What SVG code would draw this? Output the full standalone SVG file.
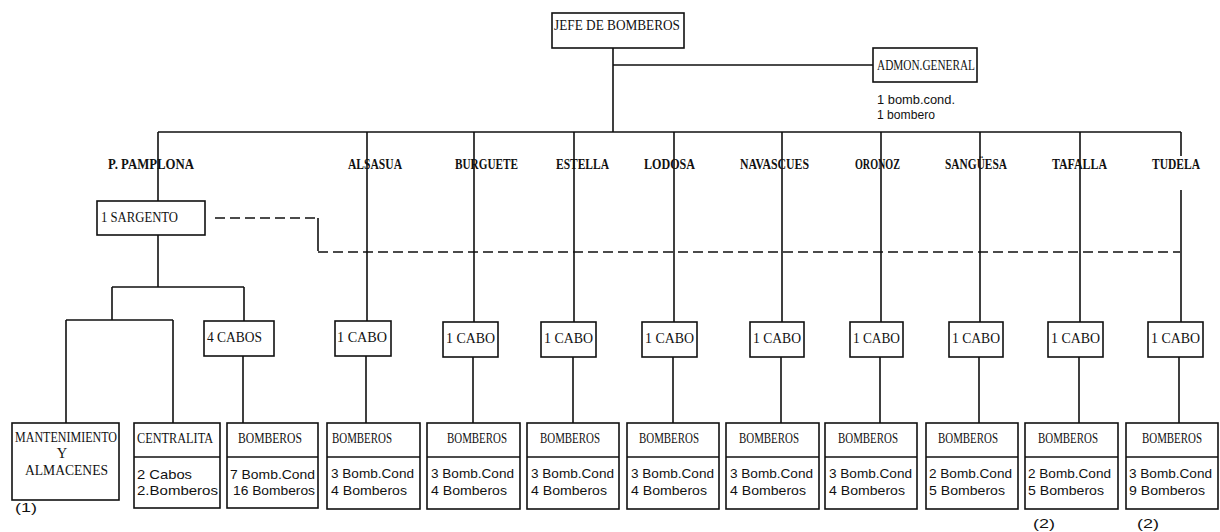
<svg xmlns="http://www.w3.org/2000/svg" width="1220" height="532" viewBox="0 0 1220 532">
<style>
.bx{fill:#fff;stroke:#111;stroke-width:1.6}
.ln{fill:none;stroke:#111;stroke-width:1.6}
.dl{fill:none;stroke:#111;stroke-width:1.6;stroke-dasharray:10 5}
.up{font-family:"Liberation Serif",serif;font-size:14.5px;fill:#111}
.tw{font-family:"Liberation Serif",serif;font-size:15.5px;font-weight:bold;fill:#111}
.lo{font-family:"Liberation Sans",sans-serif;font-size:13.5px;fill:#111}
.sm{font-family:"Liberation Sans",sans-serif;font-size:12px;fill:#111}
</style>
<rect width="1220" height="532" fill="#fff"/>
<g id="connectors">
<path class="ln" d="M613 48V132M613 65H873M158 132H1181"/>
<path class="ln" d="M158 132V201M367 132V321M474 132V322M574 132V322M674 132V322M782 132V322M881 132V322M980 132V322M1080 132V322M1181 132V156M1181 190V322"/>
<path class="ln" d="M366 356V423M473 357V423M573 357V423M673 357V423M781 357V423M880 357V423M979 357V423M1079 357V423M1179 357V423"/>
<path class="ln" d="M158 235V287M112 287H244M112 287V320M66 320H173M66 320V423M173 320V423M244 287V321M243 356V423"/>
<path class="dl" d="M215 218H318"/>
<path class="ln" d="M318 218V251"/>
<path class="dl" d="M318 252H1180"/>
</g>
<g id="jefe"><rect class="bx" x="552" y="13" width="132" height="35"/><text class="up" x="554" y="30" textLength="126" lengthAdjust="spacingAndGlyphs">JEFE DE BOMBEROS</text></g>
<g id="admon"><rect class="bx" x="873" y="48" width="104" height="34"/><text class="up" x="877" y="70" textLength="98" lengthAdjust="spacingAndGlyphs">ADMON.GENERAL</text>
<text class="sm" x="877" y="104" textLength="78" lengthAdjust="spacingAndGlyphs">1 bomb.cond.</text>
<text class="sm" x="877" y="119" textLength="58" lengthAdjust="spacingAndGlyphs">1 bombero</text></g>
<g id="towns">
<text class="tw" x="108" y="169" textLength="86" lengthAdjust="spacingAndGlyphs">P. PAMPLONA</text>
<text class="tw" x="348" y="169" textLength="54" lengthAdjust="spacingAndGlyphs">ALSASUA</text>
<text class="tw" x="455" y="169" textLength="63" lengthAdjust="spacingAndGlyphs">BURGUETE</text>
<text class="tw" x="556" y="169" textLength="53" lengthAdjust="spacingAndGlyphs">ESTELLA</text>
<text class="tw" x="644" y="169" textLength="51" lengthAdjust="spacingAndGlyphs">LODOSA</text>
<text class="tw" x="740" y="169" textLength="69" lengthAdjust="spacingAndGlyphs">NAVASCUES</text>
<text class="tw" x="855" y="169" textLength="45" lengthAdjust="spacingAndGlyphs">ORONOZ</text>
<text class="tw" x="945" y="169" textLength="62" lengthAdjust="spacingAndGlyphs">SANGÜESA</text>
<text class="tw" x="1052" y="169" textLength="55" lengthAdjust="spacingAndGlyphs">TAFALLA</text>
<text class="tw" x="1152" y="169" textLength="48" lengthAdjust="spacingAndGlyphs">TUDELA</text>
</g>
<g id="sargento"><rect class="bx" x="97" y="201" width="108" height="34"/><text class="up" x="101" y="222" textLength="77" lengthAdjust="spacingAndGlyphs">1 SARGENTO</text></g>
<g id="cabos4"><rect class="bx" x="204" y="321" width="70" height="35"/><text class="up" x="207" y="342" textLength="55" lengthAdjust="spacingAndGlyphs">4 CABOS</text></g>
<g id="cabo-alsasua"><rect class="bx" x="335" y="321" width="56" height="35"/><text class="up" x="337" y="342" textLength="50" lengthAdjust="spacingAndGlyphs">1 CABO</text></g>
<g id="cabo-burguete"><rect class="bx" x="443" y="322" width="55" height="35"/><text class="up" x="446" y="343" textLength="49" lengthAdjust="spacingAndGlyphs">1 CABO</text></g>
<g id="cabo-estella"><rect class="bx" x="541" y="322" width="55" height="35"/><text class="up" x="544" y="343" textLength="49" lengthAdjust="spacingAndGlyphs">1 CABO</text></g>
<g id="cabo-lodosa"><rect class="bx" x="642" y="322" width="55" height="35"/><text class="up" x="645" y="343" textLength="49" lengthAdjust="spacingAndGlyphs">1 CABO</text></g>
<g id="cabo-navascues"><rect class="bx" x="750" y="322" width="54" height="35"/><text class="up" x="753" y="343" textLength="48" lengthAdjust="spacingAndGlyphs">1 CABO</text></g>
<g id="cabo-oronoz"><rect class="bx" x="850" y="322" width="53" height="35"/><text class="up" x="853" y="343" textLength="47" lengthAdjust="spacingAndGlyphs">1 CABO</text></g>
<g id="cabo-sanguesa"><rect class="bx" x="949" y="322" width="54" height="35"/><text class="up" x="952" y="343" textLength="48" lengthAdjust="spacingAndGlyphs">1 CABO</text></g>
<g id="cabo-tafalla"><rect class="bx" x="1048" y="322" width="55" height="35"/><text class="up" x="1051" y="343" textLength="49" lengthAdjust="spacingAndGlyphs">1 CABO</text></g>
<g id="cabo-tudela"><rect class="bx" x="1148" y="322" width="55" height="35"/><text class="up" x="1151" y="343" textLength="49" lengthAdjust="spacingAndGlyphs">1 CABO</text></g>
<g id="mantenimiento"><rect class="bx" x="12" y="423" width="107" height="77"/>
<text class="up" x="15" y="442" textLength="102" lengthAdjust="spacingAndGlyphs">MANTENIMIENTO</text>
<text class="up" x="62" y="458" text-anchor="middle">Y</text>
<text class="up" x="25" y="475" textLength="83" lengthAdjust="spacingAndGlyphs">ALMACENES</text></g>
<g id="centralita"><rect class="bx" x="134" y="423" width="86" height="85"/><path class="ln" d="M134 457H220"/>
<text class="up" x="137" y="443" textLength="76" lengthAdjust="spacingAndGlyphs">CENTRALITA</text>
<text class="lo" x="137" y="479" textLength="55" lengthAdjust="spacingAndGlyphs">2 Cabos</text>
<text class="lo" x="137" y="495" textLength="81" lengthAdjust="spacingAndGlyphs">2.Bomberos</text></g>
<g id="bomb-pamplona"><rect class="bx" x="227" y="423" width="91" height="85"/><path class="ln" d="M227 457H318"/>
<text class="up" x="238" y="443" textLength="64" lengthAdjust="spacingAndGlyphs">BOMBEROS</text>
<text class="lo" x="230" y="479" textLength="85" lengthAdjust="spacingAndGlyphs">7 Bomb.Cond</text>
<text class="lo" x="233" y="495" textLength="82" lengthAdjust="spacingAndGlyphs">16 Bomberos</text></g>
<g id="bomb-alsasua"><rect class="bx" x="327" y="423" width="93" height="86"/><path class="ln" d="M327 457H420"/>
<text class="up" x="332" y="443" textLength="60" lengthAdjust="spacingAndGlyphs">BOMBEROS</text>
<text class="lo" x="331" y="478" textLength="83" lengthAdjust="spacingAndGlyphs">3 Bomb.Cond</text>
<text class="lo" x="331" y="495" textLength="76" lengthAdjust="spacingAndGlyphs">4 Bomberos</text></g>
<g id="bomb-burguete"><rect class="bx" x="427" y="423" width="93" height="86"/><path class="ln" d="M427 457H520"/>
<text class="up" x="447" y="443" textLength="60" lengthAdjust="spacingAndGlyphs">BOMBEROS</text>
<text class="lo" x="431" y="478" textLength="83" lengthAdjust="spacingAndGlyphs">3 Bomb.Cond</text>
<text class="lo" x="431" y="495" textLength="76" lengthAdjust="spacingAndGlyphs">4 Bomberos</text></g>
<g id="bomb-estella"><rect class="bx" x="527" y="423" width="92" height="86"/><path class="ln" d="M527 457H619"/>
<text class="up" x="540" y="443" textLength="60" lengthAdjust="spacingAndGlyphs">BOMBEROS</text>
<text class="lo" x="531" y="478" textLength="83" lengthAdjust="spacingAndGlyphs">3 Bomb.Cond</text>
<text class="lo" x="531" y="495" textLength="76" lengthAdjust="spacingAndGlyphs">4 Bomberos</text></g>
<g id="bomb-lodosa"><rect class="bx" x="627" y="423" width="92" height="86"/><path class="ln" d="M627 457H719"/>
<text class="up" x="639" y="443" textLength="60" lengthAdjust="spacingAndGlyphs">BOMBEROS</text>
<text class="lo" x="631" y="478" textLength="83" lengthAdjust="spacingAndGlyphs">3 Bomb.Cond</text>
<text class="lo" x="631" y="495" textLength="76" lengthAdjust="spacingAndGlyphs">4 Bomberos</text></g>
<g id="bomb-navascues"><rect class="bx" x="726" y="423" width="93" height="86"/><path class="ln" d="M726 457H819"/>
<text class="up" x="739" y="443" textLength="60" lengthAdjust="spacingAndGlyphs">BOMBEROS</text>
<text class="lo" x="730" y="478" textLength="83" lengthAdjust="spacingAndGlyphs">3 Bomb.Cond</text>
<text class="lo" x="730" y="495" textLength="76" lengthAdjust="spacingAndGlyphs">4 Bomberos</text></g>
<g id="bomb-oronoz"><rect class="bx" x="825" y="423" width="92" height="86"/><path class="ln" d="M825 457H917"/>
<text class="up" x="838" y="443" textLength="60" lengthAdjust="spacingAndGlyphs">BOMBEROS</text>
<text class="lo" x="829" y="478" textLength="83" lengthAdjust="spacingAndGlyphs">3 Bomb.Cond</text>
<text class="lo" x="829" y="495" textLength="76" lengthAdjust="spacingAndGlyphs">4 Bomberos</text></g>
<g id="bomb-sanguesa"><rect class="bx" x="926" y="423" width="92" height="86"/><path class="ln" d="M926 457H1018"/>
<text class="up" x="938" y="443" textLength="60" lengthAdjust="spacingAndGlyphs">BOMBEROS</text>
<text class="lo" x="929" y="478" textLength="83" lengthAdjust="spacingAndGlyphs">2 Bomb.Cond</text>
<text class="lo" x="929" y="495" textLength="76" lengthAdjust="spacingAndGlyphs">5 Bomberos</text></g>
<g id="bomb-tafalla"><rect class="bx" x="1025" y="423" width="93" height="86"/><path class="ln" d="M1025 457H1118"/>
<text class="up" x="1038" y="443" textLength="60" lengthAdjust="spacingAndGlyphs">BOMBEROS</text>
<text class="lo" x="1028" y="478" textLength="83" lengthAdjust="spacingAndGlyphs">2 Bomb.Cond</text>
<text class="lo" x="1028" y="495" textLength="76" lengthAdjust="spacingAndGlyphs">5 Bomberos</text></g>
<g id="bomb-tudela"><rect class="bx" x="1126" y="423" width="92" height="86"/><path class="ln" d="M1126 457H1218"/>
<text class="up" x="1142" y="443" textLength="60" lengthAdjust="spacingAndGlyphs">BOMBEROS</text>
<text class="lo" x="1129" y="478" textLength="83" lengthAdjust="spacingAndGlyphs">3 Bomb.Cond</text>
<text class="lo" x="1129" y="495" textLength="76" lengthAdjust="spacingAndGlyphs">9 Bomberos</text></g>
<g id="notes">
<text class="sm" x="15" y="512" textLength="22" lengthAdjust="spacingAndGlyphs">(1)</text>
<text class="sm" x="1033" y="528" textLength="22" lengthAdjust="spacingAndGlyphs">(2)</text>
<text class="sm" x="1137" y="528" textLength="22" lengthAdjust="spacingAndGlyphs">(2)</text>
</g>
</svg>
